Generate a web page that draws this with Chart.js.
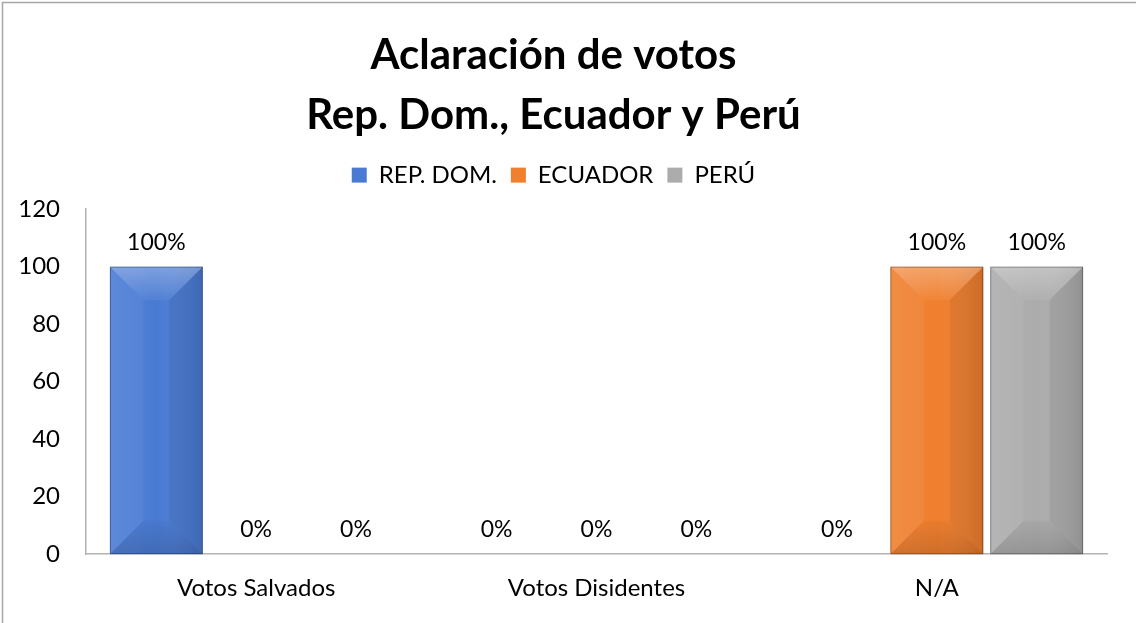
<!DOCTYPE html>
<html>
<head>
<meta charset="utf-8">
<script src="https://cdn.jsdelivr.net/npm/chart.js@4"></script>
<style>
  html, body { margin: 0; padding: 0; background: #fff; }
  #wrap { width: 1136px; height: 623px; }
</style>
</head>
<body>
<div id="wrap"><canvas id="chart"></canvas></div>
<script>
const categories = ['Votos Salvados', 'Votos Disidentes', 'N/A'];
const seriesNames = ['REP. DOM.', 'ECUADOR', 'PERÚ'];
const repDom = [100, 0, 0];
const ecuador = [0, 0, 100];
const peru = [0, 0, 100];
const yTicks = [0, 20, 40, 60, 80, 100, 120];

const colors = ['#4a7bd4', '#f07f2e', '#acacac'];
const FONT = 'Lato, "Open Sans", sans-serif';

// outer frame of the chart object
const framePlugin = {
  id: 'frame',
  beforeDraw(chart) {
    const ctx = chart.ctx;
    ctx.save();
    ctx.strokeStyle = '#a6a6a6';
    ctx.lineWidth = 1.5;
    ctx.strokeRect(2.5, 2.5, chart.width + 10, chart.height + 10);
    ctx.restore();
  }
};

// extra room between legend and plot
const legendGapPlugin = {
  id: 'legendGap',
  beforeInit(chart) {
    const lg = chart.legend;
    if (!lg) return;
    const fit = lg.fit;
    lg.fit = function () {
      fit.call(this);
      this.height += 12;
    };
  }
};

// bevelled look on every bar, drawn over the plain fill
const bevelPlugin = {
  id: 'bevel',
  afterDatasetsDraw(chart) {
    const ctx = chart.ctx;
    chart.data.datasets.forEach((ds, i) => {
      chart.getDatasetMeta(i).data.forEach(bar => {
        const h = bar.base - bar.y;
        if (h < 1) return;
        const l = bar.x - bar.width / 2, r = bar.x + bar.width / 2;
        const t = bar.y, b = bar.base;
        const d = bar.width * 0.36;
        ctx.save();
        const g = ctx.createLinearGradient(l, 0, r, 0);
        g.addColorStop(0, 'rgba(255,255,255,0.06)');
        g.addColorStop(0.5, 'rgba(255,255,255,0.0)');
        g.addColorStop(1, 'rgba(0,0,0,0.10)');
        ctx.fillStyle = g;
        ctx.fillRect(l, t, r - l, b - t);
        // top facet
        const gt = ctx.createLinearGradient(0, t, 0, t + d);
        gt.addColorStop(0, 'rgba(255,255,255,0.28)');
        gt.addColorStop(1, 'rgba(255,255,255,0.04)');
        ctx.fillStyle = gt;
        ctx.beginPath();
        ctx.moveTo(l, t); ctx.lineTo(r, t); ctx.lineTo(r - d, t + d); ctx.lineTo(l + d, t + d);
        ctx.closePath(); ctx.fill();
        // left facet
        ctx.fillStyle = 'rgba(255,255,255,0.05)';
        ctx.beginPath();
        ctx.moveTo(l, t); ctx.lineTo(l + d, t + d); ctx.lineTo(l + d, b - d); ctx.lineTo(l, b);
        ctx.closePath(); ctx.fill();
        // right facet
        ctx.fillStyle = 'rgba(0,0,0,0.06)';
        ctx.beginPath();
        ctx.moveTo(r, t); ctx.lineTo(r - d, t + d); ctx.lineTo(r - d, b - d); ctx.lineTo(r, b);
        ctx.closePath(); ctx.fill();
        // bottom facet
        const gb = ctx.createLinearGradient(0, b - d, 0, b);
        gb.addColorStop(0, 'rgba(0,0,0,0.03)');
        gb.addColorStop(1, 'rgba(0,0,0,0.14)');
        ctx.fillStyle = gb;
        ctx.beginPath();
        ctx.moveTo(l, b); ctx.lineTo(l + d, b - d); ctx.lineTo(r - d, b - d); ctx.lineTo(r, b);
        ctx.closePath(); ctx.fill();
        // dark rim
        ctx.strokeStyle = 'rgba(0,0,0,0.30)';
        ctx.lineWidth = 1;
        ctx.strokeRect(l + 0.5, t + 0.5, r - l - 1, b - t - 1);
        ctx.restore();
      });
    });
  }
};

// value labels ("100%", "0%") above each bar
const labelPlugin = {
  id: 'valueLabels',
  afterDatasetsDraw(chart) {
    const ctx = chart.ctx;
    ctx.save();
    ctx.font = '23px ' + FONT;
    ctx.fillStyle = '#000';
    ctx.textAlign = 'center';
    ctx.textBaseline = 'alphabetic';
    chart.data.datasets.forEach((ds, i) => {
      chart.getDatasetMeta(i).data.forEach((bar, j) => {
        ctx.fillText(ds.data[j] + '%', bar.x, bar.y - 17);
      });
    });
    ctx.restore();
  }
};

new Chart(document.getElementById('chart'), {
  type: 'bar',
  data: {
    labels: categories,
    datasets: [
      { label: seriesNames[0], data: repDom, backgroundColor: colors[0] },
      { label: seriesNames[1], data: ecuador, backgroundColor: colors[1] },
      { label: seriesNames[2], data: peru, backgroundColor: colors[2] }
    ]
  },
  options: {
    responsive: true,
    maintainAspectRatio: false,
    animation: false,
    layout: { padding: { top: 0, right: 29, bottom: 0, left: 0 } },
    datasets: { bar: { categoryPercentage: 0.88, barPercentage: 0.93 } },
    plugins: {
      title: {
        display: true,
        text: ['Aclaración de votos', 'Rep. Dom., Ecuador y Perú'],
        color: '#000',
        font: { family: FONT, size: 42, weight: 'bold', lineHeight: 1.43 },
        padding: { top: 25, bottom: 4 }
      },
      legend: {
        position: 'top',
        labels: {
          color: '#000',
          font: { family: FONT, size: 24 },
          boxWidth: 15,
          boxHeight: 15,
          padding: 14
        }
      },
      tooltip: { enabled: false }
    },
    scales: {
      x: {
        grid: { display: false, drawTicks: false },
        border: { display: true, color: '#b3b3b3', width: 1.5 },
        ticks: { color: '#000', font: { family: FONT, size: 24 }, padding: 20 }
      },
      y: {
        min: 0,
        max: 120,
        afterBuildTicks(scale) { scale.ticks = yTicks.map(v => ({ value: v })); },
        afterFit(scale) { scale.width = 86; },
        grid: { display: false, drawTicks: false },
        border: { display: true, color: '#b3b3b3', width: 1.5 },
        ticks: { color: '#000', font: { family: FONT, size: 24 }, padding: 26 }
      }
    }
  },
  plugins: [framePlugin, legendGapPlugin, bevelPlugin, labelPlugin]
});
</script>
</body>
</html>
